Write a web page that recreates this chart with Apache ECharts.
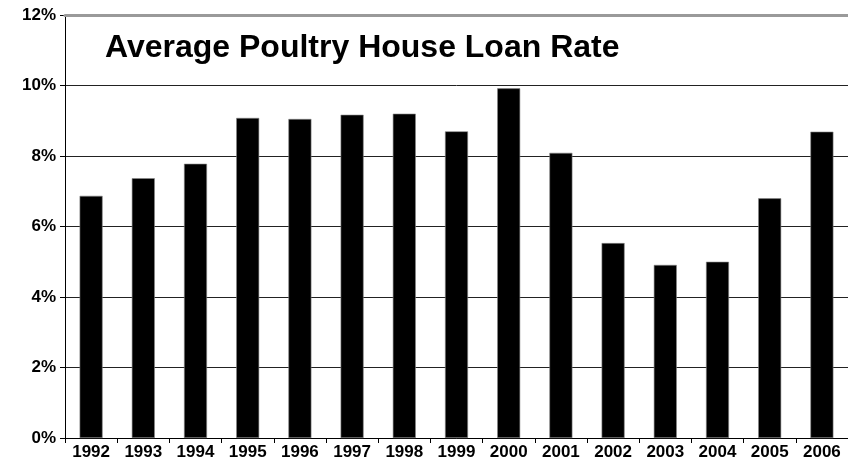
<!DOCTYPE html>
<html>
<head>
<meta charset="utf-8">
<script src="https://cdn.jsdelivr.net/npm/echarts@6/dist/echarts.min.js"></script>
<style>html,body{margin:0;padding:0;background:#fff;}#c{width:848px;height:461px;}</style>
</head>
<body>
<div id="c"></div>
<script>
const years = ['1992','1993','1994','1995','1996','1997','1998','1999','2000','2001','2002','2003','2004','2005','2006'];
const rates = [6.87, 7.37, 7.78, 9.08, 9.05, 9.17, 9.20, 8.70, 9.92, 8.09, 5.53, 4.91, 5.00, 6.80, 8.69];
const yTicks = {min: 0, max: 12, interval: 2};
const titleText = 'Average Poultry House Loan Rate';

const chart = echarts.init(document.getElementById('c'), null, {renderer: 'canvas'});
const font = 'Liberation Sans, Arial, sans-serif';
chart.setOption({
  animation: false,
  backgroundColor: '#fff',
  title: {
    text: titleText,
    left: 100, top: 27,
    textStyle: {fontFamily: font, fontWeight: 'bold', fontSize: 32, color: '#000'}
  },
  grid: {left: 65, right: -3, top: 15, bottom: 22, containLabel: false},
  xAxis: [{
    type: 'category',
    data: years,
    axisLine: {show: true, lineStyle: {color: '#000', width: 1}},
    axisTick: {show: true, length: 5, lineStyle: {color: '#000'}},
    axisLabel: {fontFamily: font, fontWeight: 'bold', fontSize: 17, color: '#000', margin: 6, interval: 0}
  }, {
    type: 'category',
    data: years,
    position: 'top',
    z: 10,
    axisLine: {show: true, lineStyle: {color: '#9a9a9a', width: 3}},
    axisTick: {show: false},
    axisLabel: {show: false}
  }],
  yAxis: {
    type: 'value',
    min: yTicks.min, max: yTicks.max, interval: yTicks.interval,
    axisLine: {show: true, lineStyle: {color: '#000', width: 1}},
    axisTick: {show: true, length: 5, lineStyle: {color: '#000'}},
    axisLabel: {formatter: '{value}%', fontFamily: font, fontWeight: 'bold', fontSize: 17, color: '#000', margin: 9},
    splitLine: {show: true, lineStyle: {color: ['#222','#222','#222','#222','#222','#222','#9a9a9a'], width: 1}}
  },
  series: [{
    type: 'bar',
    data: rates,
    barWidth: 23,
    itemStyle: {color: '#000', borderColor: '#888', borderWidth: 0.6}
  }]
});
</script>
</body>
</html>
